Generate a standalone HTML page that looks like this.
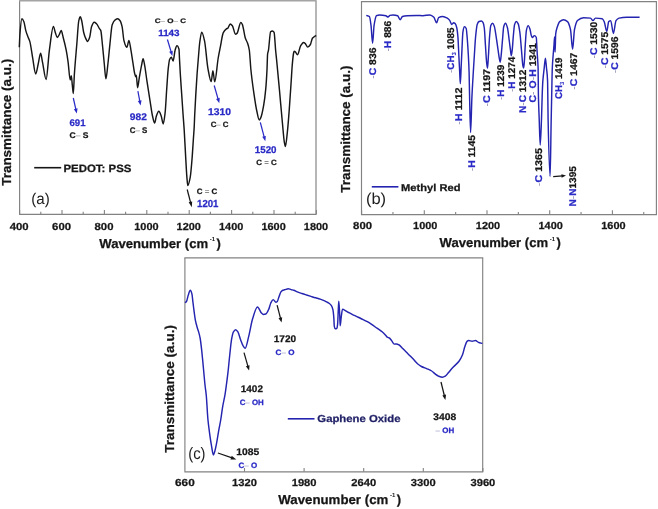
<!DOCTYPE html>
<html><head><meta charset="utf-8"><style>
html,body{margin:0;padding:0;background:#fff;overflow:hidden;}
svg{display:block;filter:blur(0.3px);font-family:"Liberation Sans",sans-serif;text-rendering:geometricPrecision;}
</style></head><body>
<svg width="658" height="509" viewBox="0 0 658 509">
<rect width="658" height="509" fill="#fff"/>
<path d="M19.6,0.75 L19.6,214.3 L316.0,214.3 L316.0,0.75" fill="none" stroke="#828282" stroke-width="1.15"/>
<line x1="19.05" y1="0.75" x2="316.55" y2="0.75" stroke="#a4a4a4" stroke-width="1.6"/>
<line x1="19.60" y1="214.3" x2="19.60" y2="210.0" stroke="#828282" stroke-width="1.1"/>
<line x1="62.00" y1="214.3" x2="62.00" y2="210.0" stroke="#828282" stroke-width="1.1"/>
<line x1="104.40" y1="214.3" x2="104.40" y2="210.0" stroke="#828282" stroke-width="1.1"/>
<line x1="146.80" y1="214.3" x2="146.80" y2="210.0" stroke="#828282" stroke-width="1.1"/>
<line x1="189.20" y1="214.3" x2="189.20" y2="210.0" stroke="#828282" stroke-width="1.1"/>
<line x1="231.60" y1="214.3" x2="231.60" y2="210.0" stroke="#828282" stroke-width="1.1"/>
<line x1="274.00" y1="214.3" x2="274.00" y2="210.0" stroke="#828282" stroke-width="1.1"/>
<line x1="316.40" y1="214.3" x2="316.40" y2="210.0" stroke="#828282" stroke-width="1.1"/>
<line x1="40.80" y1="214.3" x2="40.80" y2="211.70000000000002" stroke="#828282" stroke-width="1.1"/>
<line x1="83.20" y1="214.3" x2="83.20" y2="211.70000000000002" stroke="#828282" stroke-width="1.1"/>
<line x1="125.60" y1="214.3" x2="125.60" y2="211.70000000000002" stroke="#828282" stroke-width="1.1"/>
<line x1="168.00" y1="214.3" x2="168.00" y2="211.70000000000002" stroke="#828282" stroke-width="1.1"/>
<line x1="210.40" y1="214.3" x2="210.40" y2="211.70000000000002" stroke="#828282" stroke-width="1.1"/>
<line x1="252.80" y1="214.3" x2="252.80" y2="211.70000000000002" stroke="#828282" stroke-width="1.1"/>
<line x1="295.20" y1="214.3" x2="295.20" y2="211.70000000000002" stroke="#828282" stroke-width="1.1"/>
<path d="M19.30,47.30 C19.50,43.03 19.70,37.00 19.90,34.50 C20.57,26.16 21.23,18.80 21.90,18.80 C22.57,18.80 23.23,20.22 23.90,21.70 C24.53,23.11 25.17,28.30 25.80,30.60 C26.47,33.02 27.13,34.72 27.80,36.50 C28.47,38.28 29.13,39.16 29.80,41.40 C30.77,44.64 31.73,52.78 32.70,58.10 C33.70,63.60 34.70,73.90 35.70,73.90 C36.53,73.90 37.37,67.51 38.20,64.00 C39.00,60.63 39.80,53.20 40.60,53.20 C41.23,53.20 41.87,59.10 42.50,62.10 C43.70,67.79 44.90,79.40 46.10,79.40 C47.20,79.40 48.30,58.04 49.40,50.20 C50.73,40.70 52.07,26.60 53.40,26.60 C54.03,26.60 54.67,30.74 55.30,32.50 C55.97,34.35 56.63,37.50 57.30,37.50 C57.97,37.50 58.63,35.66 59.30,34.50 C59.93,33.40 60.57,30.60 61.20,30.60 C61.87,30.60 62.53,34.98 63.20,37.50 C64.20,41.28 65.20,45.07 66.20,50.20 C66.83,53.45 67.47,57.54 68.10,62.10 C68.80,67.14 69.50,80.00 70.20,80.00 C70.57,80.00 70.93,75.80 71.30,75.80 C71.63,75.80 71.97,82.05 72.30,85.00 C72.63,87.95 72.97,93.50 73.30,93.50 C73.67,93.50 74.03,79.37 74.40,73.90 C75.20,61.97 76.00,53.94 76.80,44.30 C77.47,36.26 78.13,23.46 78.80,20.70 C79.30,18.63 79.80,16.80 80.30,16.80 C80.77,16.80 81.23,18.97 81.70,20.70 C82.37,23.17 83.03,29.88 83.70,32.50 C84.37,35.12 85.03,37.03 85.70,38.40 C86.33,39.70 86.97,41.40 87.60,41.40 C88.27,41.40 88.93,39.41 89.60,37.50 C90.27,35.59 90.93,28.38 91.60,26.60 C92.43,24.38 93.27,22.30 94.10,22.30 C94.90,22.30 95.70,23.02 96.50,23.70 C97.47,24.53 98.43,27.12 99.40,28.60 C99.87,29.32 100.33,29.48 100.80,30.60 C101.33,31.89 101.87,39.31 102.40,44.30 C103.03,50.22 103.67,57.82 104.30,64.00 C104.83,69.21 105.37,78.80 105.90,78.80 C106.57,78.80 107.23,69.63 107.90,64.00 C108.57,58.37 109.23,50.40 109.90,44.30 C110.67,37.28 111.43,26.87 112.20,24.70 C113.20,21.87 114.20,20.43 115.20,19.80 C116.03,19.27 116.87,18.80 117.70,18.80 C118.50,18.80 119.30,19.68 120.10,20.70 C120.77,21.55 121.43,23.74 122.10,26.60 C122.70,29.18 123.30,37.82 123.90,40.40 C124.57,43.26 125.23,45.36 125.90,46.30 C126.23,46.77 126.57,47.30 126.90,47.30 C127.57,47.30 128.23,40.40 128.90,40.40 C129.53,40.40 130.17,45.90 130.80,49.30 C131.50,53.06 132.20,58.25 132.90,62.60 C133.50,66.33 134.10,71.21 134.70,73.60 C135.03,74.93 135.37,76.70 135.70,76.70 C135.90,76.70 136.10,75.20 136.30,75.20 C136.73,75.20 137.17,87.70 137.60,87.70 C138.13,87.70 138.67,81.33 139.20,78.30 C139.97,73.94 140.73,69.44 141.50,65.70 C142.03,63.10 142.57,58.60 143.10,58.60 C143.63,58.60 144.17,62.87 144.70,65.70 C145.47,69.77 146.23,76.32 147.00,81.40 C148.07,88.46 149.13,95.23 150.20,101.90 C150.97,106.70 151.73,112.67 152.50,116.00 C153.20,119.04 153.90,123.10 154.60,123.10 C155.20,123.10 155.80,117.60 156.40,116.00 C157.20,113.87 158.00,111.30 158.80,111.30 C159.60,111.30 160.40,113.88 161.20,116.00 C161.87,117.76 162.53,123.90 163.20,123.90 C163.83,123.90 164.47,118.23 165.10,112.90 C165.63,108.41 166.17,96.84 166.70,89.30 C167.20,82.23 167.70,73.38 168.20,68.90 C168.67,64.72 169.13,60.57 169.60,59.50 C170.17,58.20 170.73,57.20 171.30,57.20 C171.90,57.20 172.50,61.10 173.10,61.10 C173.77,61.10 174.43,52.51 175.10,50.20 C175.70,48.13 176.30,45.60 176.90,45.60 C177.60,45.60 178.30,46.57 179.00,49.30 C179.17,49.95 179.33,55.85 179.50,59.00 C179.77,64.04 180.03,69.29 180.30,73.70 C180.77,81.42 181.23,87.52 181.70,94.40 C182.17,101.28 182.63,108.40 183.10,115.00 C183.47,120.18 183.83,124.31 184.20,130.00 C184.73,138.27 185.27,150.20 185.80,159.40 C186.17,165.72 186.53,173.15 186.90,177.40 C187.20,180.88 187.50,185.60 187.80,185.60 C188.60,185.60 189.40,181.57 190.20,177.40 C190.80,174.27 191.40,166.60 192.00,159.40 C192.47,153.80 192.93,145.68 193.40,138.80 C193.67,134.87 193.93,131.96 194.20,127.00 C194.37,123.90 194.53,118.56 194.70,115.00 C195.07,107.17 195.43,100.73 195.80,94.40 C196.23,86.92 196.67,79.74 197.10,73.70 C197.47,68.59 197.83,64.35 198.20,60.00 C198.73,53.68 199.27,45.84 199.80,42.00 C200.43,37.44 201.07,32.10 201.70,32.10 C202.63,32.10 203.57,36.60 204.50,40.70 C205.63,45.68 206.77,62.24 207.90,68.30 C209.00,74.19 210.10,81.50 211.20,81.50 C211.77,81.50 212.33,70.70 212.90,70.70 C213.50,70.70 214.10,81.80 214.70,81.80 C215.87,81.80 217.03,64.79 218.20,58.00 C218.90,53.92 219.60,50.60 220.30,47.10 C221.30,42.10 222.30,34.66 223.30,32.70 C224.33,30.68 225.37,29.63 226.40,28.90 C226.90,28.54 227.40,28.50 227.90,28.10 C228.67,27.49 229.43,24.00 230.20,24.00 C230.93,24.00 231.67,24.91 232.40,25.80 C233.43,27.06 234.47,34.20 235.50,34.20 C236.00,34.20 236.50,33.81 237.00,33.40 C238.27,32.36 239.53,22.50 240.80,22.50 C241.30,22.50 241.80,23.41 242.30,24.30 C243.30,26.08 244.30,34.98 245.30,38.00 C246.07,40.31 246.83,41.04 247.60,43.30 C248.17,44.97 248.73,46.60 249.30,50.00 C249.83,53.20 250.37,64.46 250.90,69.70 C251.90,79.52 252.90,86.43 253.90,93.30 C254.87,99.94 255.83,106.57 256.80,111.00 C257.60,114.66 258.40,119.90 259.20,119.90 C259.70,119.90 260.20,118.86 260.70,117.90 C261.70,115.98 262.70,110.74 263.70,105.10 C264.37,101.34 265.03,96.45 265.70,89.40 C266.13,84.82 266.57,78.30 267.00,69.70 C267.20,65.73 267.40,55.51 267.60,54.00 C267.87,51.98 268.13,52.04 268.40,50.60 C269.13,46.64 269.87,32.47 270.60,31.80 C271.20,31.25 271.80,30.90 272.40,30.90 C272.97,30.90 273.53,31.45 274.10,32.40 C274.60,33.24 275.10,44.69 275.60,50.00 C275.93,53.54 276.27,56.43 276.60,59.80 C277.53,69.24 278.47,79.28 279.40,89.40 C280.40,100.24 281.40,112.39 282.40,122.80 C283.07,129.74 283.73,138.88 284.40,142.50 C284.73,144.31 285.07,146.50 285.40,146.50 C286.03,146.50 286.67,138.38 287.30,132.70 C287.97,126.72 288.63,117.85 289.30,109.10 C289.97,100.35 290.63,89.56 291.30,79.50 C291.60,74.97 291.90,69.18 292.20,65.70 C292.67,60.28 293.13,54.97 293.60,53.00 C293.80,52.15 294.00,51.20 294.20,51.20 C294.57,51.20 294.93,51.53 295.30,51.80 C296.03,52.35 296.77,54.80 297.50,54.80 C298.53,54.80 299.57,47.61 300.60,45.90 C301.60,44.24 302.60,42.40 303.60,42.40 C304.17,42.40 304.73,43.07 305.30,43.60 C306.10,44.35 306.90,47.10 307.70,47.10 C308.60,47.10 309.50,45.86 310.40,44.50 C311.07,43.49 311.73,39.18 312.40,38.30 C313.40,36.98 314.40,36.49 315.40,35.90 C315.67,35.74 315.93,35.63 316.20,35.50" fill="none" stroke="#161616" stroke-width="1.45" stroke-linejoin="round"/>
<text x="9.74" y="230.0" font-size="10.2" fill="#161616" font-weight="bold" textLength="18.92" lengthAdjust="spacingAndGlyphs" stroke="#161616" stroke-width="0.25">400</text>
<text x="52.14" y="230.0" font-size="10.2" fill="#161616" font-weight="bold" textLength="18.92" lengthAdjust="spacingAndGlyphs" stroke="#161616" stroke-width="0.25">600</text>
<text x="94.54" y="230.0" font-size="10.2" fill="#161616" font-weight="bold" textLength="18.92" lengthAdjust="spacingAndGlyphs" stroke="#161616" stroke-width="0.25">800</text>
<text x="134.24" y="230.0" font-size="10.2" fill="#161616" font-weight="bold" textLength="24.32" lengthAdjust="spacingAndGlyphs" stroke="#161616" stroke-width="0.25">1000</text>
<text x="176.64" y="230.0" font-size="10.2" fill="#161616" font-weight="bold" textLength="24.32" lengthAdjust="spacingAndGlyphs" stroke="#161616" stroke-width="0.25">1200</text>
<text x="219.04" y="230.0" font-size="10.2" fill="#161616" font-weight="bold" textLength="24.32" lengthAdjust="spacingAndGlyphs" stroke="#161616" stroke-width="0.25">1400</text>
<text x="261.44" y="230.0" font-size="10.2" fill="#161616" font-weight="bold" textLength="24.32" lengthAdjust="spacingAndGlyphs" stroke="#161616" stroke-width="0.25">1600</text>
<text x="303.84" y="230.0" font-size="10.2" fill="#161616" font-weight="bold" textLength="24.32" lengthAdjust="spacingAndGlyphs" stroke="#161616" stroke-width="0.25">1800</text>
<text x="99.3" y="248.3" font-size="13" font-weight="bold" fill="#161616" stroke="#161616" stroke-width="0.25" textLength="108.80" lengthAdjust="spacingAndGlyphs">Wavenumber (cm</text>
<text x="209.7" y="241.4" font-size="6" font-weight="bold" fill="#161616">-1</text>
<text x="216.5" y="248.3" font-size="13" font-weight="bold" fill="#161616" stroke="#161616" stroke-width="0.25">)</text>
<text transform="translate(11.1,185.8) rotate(-90)" font-size="13" font-weight="bold" fill="#161616" stroke="#161616" stroke-width="0.25" textLength="127.0" lengthAdjust="spacingAndGlyphs">Transmittance (a.u.)</text>
<line x1="34.2" y1="167.7" x2="61.2" y2="167.7" stroke="#161616" stroke-width="1.6"/>
<text x="63.42" y="171.6" font-size="10.6" fill="#161616" font-weight="bold" textLength="68.05" lengthAdjust="spacingAndGlyphs" stroke="#161616" stroke-width="0.25">PEDOT: PSS</text>
<text x="31.299999999999997" y="204.3" font-size="15.6" fill="#1e1e1e" textLength="18.50" lengthAdjust="spacingAndGlyphs">(a)</text>
<line x1="73.3" y1="98.0" x2="75.92" y2="109.70" stroke="#2a2ac6" stroke-width="1.25"/>
<polygon points="76.80,113.60 73.85,109.14 77.56,108.31" fill="#2a2ac6"/>
<text x="69.47" y="126.0" font-size="9.6" fill="#2a2ac6" font-weight="bold" textLength="16.06" lengthAdjust="spacingAndGlyphs" stroke="#2a2ac6" stroke-width="0.25">691</text>
<text x="69.53" y="138.1" font-size="8.2" fill="#161616" font-weight="bold" textLength="18.94" lengthAdjust="spacingAndGlyphs" stroke="#161616" stroke-width="0.25">C<tspan fill="#7a7a7a" stroke="none" font-weight="normal">–</tspan> S</text>
<line x1="137.9" y1="91.2" x2="139.86" y2="101.57" stroke="#2a2ac6" stroke-width="1.25"/>
<polygon points="140.60,105.50 137.81,100.94 141.54,100.23" fill="#2a2ac6"/>
<text x="129.77" y="119.5" font-size="9.6" fill="#2a2ac6" font-weight="bold" textLength="17.06" lengthAdjust="spacingAndGlyphs" stroke="#2a2ac6" stroke-width="0.25">982</text>
<text x="129.83" y="133.0" font-size="8.2" fill="#161616" font-weight="bold" textLength="17.54" lengthAdjust="spacingAndGlyphs" stroke="#161616" stroke-width="0.25">C<tspan fill="#7a7a7a" stroke="none" font-weight="normal">–</tspan> S</text>
<line x1="214.2" y1="85.5" x2="218.19" y2="99.36" stroke="#2a2ac6" stroke-width="1.25"/>
<polygon points="219.30,103.20 216.09,98.92 219.74,97.87" fill="#2a2ac6"/>
<text x="208.06" y="115.0" font-size="9.8" fill="#2a2ac6" font-weight="bold" textLength="22.98" lengthAdjust="spacingAndGlyphs" stroke="#2a2ac6" stroke-width="0.25">1310</text>
<text x="210.66" y="127.2" font-size="7.6" fill="#161616" font-weight="bold" textLength="17.88" lengthAdjust="spacingAndGlyphs" stroke="#161616" stroke-width="0.25">C<tspan fill="#7a7a7a" stroke="none" font-weight="normal">–</tspan> C</text>
<line x1="260.3" y1="122.3" x2="264.28" y2="137.33" stroke="#2a2ac6" stroke-width="1.25"/>
<polygon points="265.30,141.20 262.18,136.85 265.86,135.88" fill="#2a2ac6"/>
<text x="254.86" y="152.8" font-size="9.8" fill="#2a2ac6" font-weight="bold" textLength="21.68" lengthAdjust="spacingAndGlyphs" stroke="#2a2ac6" stroke-width="0.25">1520</text>
<text x="256.36" y="164.9" font-size="7.6" fill="#161616" font-weight="bold" textLength="20.38" lengthAdjust="spacingAndGlyphs" stroke="#161616" stroke-width="0.25">C <tspan fill="#8a8a8a" stroke="none">=</tspan> C</text>
<line x1="167.4" y1="39.5" x2="171.24" y2="52.17" stroke="#2a2ac6" stroke-width="1.25"/>
<polygon points="172.40,56.00 169.13,51.77 172.77,50.66" fill="#2a2ac6"/>
<text x="158.19" y="35.9" font-size="9.0" fill="#2a2ac6" font-weight="bold" textLength="21.41" lengthAdjust="spacingAndGlyphs" stroke="#2a2ac6" stroke-width="0.25">1143</text>
<text x="154.70" y="23.0" font-size="6.6" fill="#161616" font-weight="bold" textLength="31.29" lengthAdjust="spacingAndGlyphs" stroke="#161616" stroke-width="0.25">C<tspan fill="#7a7a7a" stroke="none" font-weight="normal">–</tspan> O<tspan fill="#7a7a7a" stroke="none" font-weight="normal">–</tspan> C</text>
<line x1="187.2" y1="189.5" x2="190.67" y2="202.84" stroke="#161616" stroke-width="1.25"/>
<polygon points="191.80,207.20 188.67,202.33 192.16,201.42" fill="#161616"/>
<text x="196.75" y="194.1" font-size="7.8" fill="#161616" font-weight="bold" textLength="20.50" lengthAdjust="spacingAndGlyphs" stroke="#161616" stroke-width="0.25">C <tspan fill="#8a8a8a" stroke="none">=</tspan> C</text>
<text x="197.04" y="207.0" font-size="10.2" fill="#2a2ac6" font-weight="bold" textLength="21.42" lengthAdjust="spacingAndGlyphs" stroke="#2a2ac6" stroke-width="0.25">1201</text>
<path d="M361.5,1.6 L361.5,214.6 L656.4,214.6 L656.4,1.6" fill="none" stroke="#828282" stroke-width="1.15"/>
<line x1="360.95" y1="1.6" x2="656.9499999999999" y2="1.6" stroke="#828282" stroke-width="1.15"/>
<line x1="361.60" y1="214.6" x2="361.60" y2="210.29999999999998" stroke="#828282" stroke-width="1.1"/>
<line x1="424.30" y1="214.6" x2="424.30" y2="210.29999999999998" stroke="#828282" stroke-width="1.1"/>
<line x1="487.00" y1="214.6" x2="487.00" y2="210.29999999999998" stroke="#828282" stroke-width="1.1"/>
<line x1="549.70" y1="214.6" x2="549.70" y2="210.29999999999998" stroke="#828282" stroke-width="1.1"/>
<line x1="612.40" y1="214.6" x2="612.40" y2="210.29999999999998" stroke="#828282" stroke-width="1.1"/>
<line x1="392.95" y1="214.6" x2="392.95" y2="212.0" stroke="#828282" stroke-width="1.1"/>
<line x1="455.65" y1="214.6" x2="455.65" y2="212.0" stroke="#828282" stroke-width="1.1"/>
<line x1="518.35" y1="214.6" x2="518.35" y2="212.0" stroke="#828282" stroke-width="1.1"/>
<line x1="581.05" y1="214.6" x2="581.05" y2="212.0" stroke="#828282" stroke-width="1.1"/>
<line x1="643.75" y1="214.6" x2="643.75" y2="212.0" stroke="#828282" stroke-width="1.1"/>
<path d="M366.30,15.40 C367.33,15.77 368.37,15.74 369.40,16.50 C369.93,16.89 370.47,21.29 371.00,25.20 C371.53,29.11 372.07,43.20 372.60,43.20 C373.10,43.20 373.60,28.30 374.10,25.20 C374.90,20.25 375.70,16.10 376.50,15.70 C377.53,15.18 378.57,14.90 379.60,14.90 C381.70,14.90 383.80,15.20 385.90,15.70 C386.60,15.87 387.30,17.00 388.00,17.00 C388.63,17.00 389.27,15.58 389.90,15.40 C390.93,15.10 391.97,14.90 393.00,14.90 C394.57,14.90 396.13,15.17 397.70,15.70 C398.50,15.97 399.30,19.70 400.10,19.70 C400.90,19.70 401.70,16.76 402.50,16.50 C404.07,15.98 405.63,15.79 407.20,15.70 C410.33,15.52 413.47,15.40 416.60,15.40 C418.70,15.40 420.80,15.70 422.90,15.70 C425.27,15.70 427.63,14.90 430.00,14.90 C431.30,14.90 432.60,16.03 433.90,17.30 C434.80,18.18 435.70,22.80 436.60,22.80 C437.27,22.80 437.93,17.96 438.60,17.60 C439.93,16.87 441.27,16.50 442.60,16.50 C444.17,16.50 445.73,17.27 447.30,18.10 C448.10,18.52 448.90,19.35 449.70,20.40 C450.37,21.27 451.03,24.40 451.70,24.40 C452.33,24.40 452.97,22.80 453.60,22.80 C454.13,22.80 454.67,23.15 455.20,23.60 C455.70,24.02 456.20,25.52 456.70,27.50 C457.10,29.09 457.50,32.26 457.90,36.80 C458.20,40.21 458.50,48.60 458.80,54.50 C459.10,60.40 459.40,66.38 459.70,72.20 C459.90,76.08 460.10,83.70 460.30,83.70 C460.60,83.70 460.90,72.50 461.20,66.30 C461.47,60.79 461.73,53.96 462.00,48.60 C462.30,42.57 462.60,33.98 462.90,32.10 C463.40,28.96 463.90,26.80 464.40,26.80 C465.00,26.80 465.60,27.37 466.20,28.50 C466.50,29.07 466.80,33.43 467.10,36.80 C467.50,41.29 467.90,47.32 468.30,54.50 C468.57,59.28 468.83,63.73 469.10,72.20 C469.27,77.49 469.43,90.46 469.60,97.50 C469.93,111.58 470.27,132.50 470.60,132.50 C471.03,132.50 471.47,106.89 471.90,97.50 C472.37,87.38 472.83,80.13 473.30,72.20 C473.67,65.97 474.03,60.15 474.40,54.50 C474.80,48.34 475.20,40.93 475.60,36.80 C476.13,31.30 476.67,25.84 477.20,24.40 C477.80,22.78 478.40,21.78 479.00,21.50 C479.77,21.15 480.53,20.90 481.30,20.90 C481.90,20.90 482.50,21.68 483.10,22.70 C483.50,23.38 483.90,25.25 484.30,28.00 C484.67,30.52 485.03,39.05 485.40,44.50 C485.80,50.45 486.20,58.63 486.60,62.20 C486.90,64.87 487.20,68.10 487.50,68.10 C487.80,68.10 488.10,60.68 488.40,56.30 C488.80,50.46 489.20,40.95 489.60,36.30 C490.00,31.65 490.40,26.58 490.80,25.60 C491.37,24.21 491.93,23.30 492.50,23.30 C493.10,23.30 493.70,24.70 494.30,26.20 C494.90,27.70 495.50,32.57 496.10,36.30 C496.67,39.82 497.23,44.28 497.80,48.10 C498.40,52.15 499.00,57.12 499.60,59.90 C499.80,60.83 500.00,62.20 500.20,62.20 C500.60,62.20 501.00,56.57 501.40,52.80 C501.80,49.03 502.20,43.10 502.60,38.60 C502.97,34.48 503.33,28.08 503.70,26.80 C504.30,24.71 504.90,23.30 505.50,23.30 C506.17,23.30 506.83,25.61 507.50,28.00 C508.10,30.15 508.70,36.48 509.30,41.00 C509.70,44.01 510.10,47.54 510.50,50.40 C510.77,52.30 511.03,55.70 511.30,55.70 C511.63,55.70 511.97,52.06 512.30,49.20 C512.67,46.05 513.03,38.97 513.40,35.10 C513.80,30.88 514.20,25.54 514.60,24.40 C515.20,22.68 515.80,21.50 516.40,21.50 C517.00,21.50 517.60,22.62 518.20,23.90 C518.77,25.11 519.33,28.69 519.90,32.70 C520.43,36.48 520.97,44.52 521.50,50.40 C521.97,55.55 522.43,63.57 522.90,65.80 C523.13,66.91 523.37,68.10 523.60,68.10 C523.83,68.10 524.07,64.81 524.30,62.20 C524.63,58.47 524.97,49.49 525.30,44.50 C525.67,39.01 526.03,31.98 526.40,30.30 C527.00,27.55 527.60,25.60 528.20,25.60 C528.80,25.60 529.40,27.44 530.00,29.20 C530.40,30.37 530.80,33.96 531.20,35.10 C531.60,36.24 532.00,37.50 532.40,37.50 C533.03,37.50 533.67,35.60 534.30,35.60 C534.97,35.60 535.63,36.09 536.30,37.50 C536.53,37.99 536.77,46.20 537.00,50.00 C537.20,53.25 537.40,55.72 537.60,59.00 C537.77,61.73 537.93,62.71 538.10,68.00 C538.20,71.18 538.30,90.13 538.40,95.00 C538.67,107.98 538.93,111.55 539.20,119.00 C539.53,128.31 539.87,145.00 540.20,145.00 C540.63,145.00 541.07,130.24 541.50,119.00 C541.73,112.95 541.97,101.28 542.20,95.00 C542.40,89.62 542.60,84.44 542.80,81.60 C543.27,74.96 543.73,72.22 544.20,68.10 C544.60,64.57 545.00,58.30 545.40,58.30 C545.77,58.30 546.13,64.31 546.50,68.10 C546.87,71.89 547.23,72.55 547.60,81.60 C547.67,83.25 547.73,90.17 547.80,95.00 C547.90,102.25 548.00,114.22 548.10,119.00 C548.77,150.87 549.43,176.40 550.10,176.40 C550.47,176.40 550.83,137.24 551.20,119.00 C551.37,110.71 551.53,102.75 551.70,95.00 C551.90,85.70 552.10,72.66 552.30,68.00 C552.60,61.02 552.90,58.47 553.20,54.50 C553.47,50.97 553.73,48.36 554.00,45.00 C554.20,42.48 554.40,37.00 554.60,37.00 C554.77,37.00 554.93,52.00 555.10,52.00 C555.30,52.00 555.50,35.76 555.70,34.00 C556.20,29.60 556.70,28.74 557.20,27.20 C558.03,24.63 558.87,22.30 559.70,21.60 C561.00,20.51 562.30,19.70 563.60,19.70 C564.90,19.70 566.20,20.50 567.50,21.60 C568.50,22.45 569.50,25.25 570.50,29.50 C571.20,32.48 571.90,49.20 572.60,49.20 C573.23,49.20 573.87,32.57 574.50,29.50 C575.50,24.65 576.50,21.37 577.50,20.50 C579.53,18.73 581.57,17.70 583.60,17.70 C585.90,17.70 588.20,17.81 590.50,18.10 C591.33,18.21 592.17,20.50 593.00,20.50 C593.80,20.50 594.60,18.10 595.40,18.10 C597.67,18.10 599.93,18.25 602.20,18.70 C602.87,18.83 603.53,20.23 604.20,21.60 C605.07,23.38 605.93,31.40 606.80,31.40 C607.43,31.40 608.07,22.18 608.70,21.60 C609.37,20.99 610.03,20.60 610.70,20.60 C611.60,20.60 612.50,33.40 613.40,33.40 C614.27,33.40 615.13,21.86 616.00,20.60 C617.00,19.15 618.00,18.31 619.00,18.10 C621.60,17.56 624.20,17.30 626.80,17.30 C631.07,17.30 635.33,17.30 639.60,17.30" fill="none" stroke="#2424b0" stroke-width="1.45" stroke-linejoin="round"/>
<text x="353.14" y="229.2" font-size="10.2" fill="#161616" font-weight="bold" textLength="18.92" lengthAdjust="spacingAndGlyphs" stroke="#161616" stroke-width="0.25">800</text>
<text x="413.14" y="229.2" font-size="10.2" fill="#161616" font-weight="bold" textLength="24.32" lengthAdjust="spacingAndGlyphs" stroke="#161616" stroke-width="0.25">1000</text>
<text x="475.84" y="229.2" font-size="10.2" fill="#161616" font-weight="bold" textLength="24.32" lengthAdjust="spacingAndGlyphs" stroke="#161616" stroke-width="0.25">1200</text>
<text x="538.54" y="229.2" font-size="10.2" fill="#161616" font-weight="bold" textLength="24.32" lengthAdjust="spacingAndGlyphs" stroke="#161616" stroke-width="0.25">1400</text>
<text x="601.24" y="229.2" font-size="10.2" fill="#161616" font-weight="bold" textLength="24.32" lengthAdjust="spacingAndGlyphs" stroke="#161616" stroke-width="0.25">1600</text>
<text x="439.59999999999997" y="247.4" font-size="13" font-weight="bold" fill="#161616" stroke="#161616" stroke-width="0.25" textLength="108.50" lengthAdjust="spacingAndGlyphs">Wavenumber (cm</text>
<text x="549.7" y="240.5" font-size="6" font-weight="bold" fill="#161616">-1</text>
<text x="556.5" y="247.4" font-size="13" font-weight="bold" fill="#161616" stroke="#161616" stroke-width="0.25">)</text>
<text transform="translate(350.1,192.7) rotate(-90)" font-size="13" font-weight="bold" fill="#161616" stroke="#161616" stroke-width="0.25" textLength="127.2" lengthAdjust="spacingAndGlyphs">Transmittance (a.u.)</text>
<line x1="371.8" y1="186.8" x2="398.4" y2="186.8" stroke="#2424b0" stroke-width="1.6"/>
<text x="401.05" y="190.9" font-size="10.0" fill="#161616" font-weight="bold" textLength="59.40" lengthAdjust="spacingAndGlyphs" stroke="#161616" stroke-width="0.25">Methyl Red</text>
<text x="365.9" y="203.5" font-size="16.0" fill="#1e1e1e" textLength="20.20" lengthAdjust="spacingAndGlyphs">(b)</text>
<text transform="translate(375.8,78.74) rotate(-90)" x="0" y="0" font-size="9.8" font-weight="bold" textLength="31.2" lengthAdjust="spacingAndGlyphs" stroke-width="0.25"><tspan fill="#8a8ab0" stroke="none" font-weight="normal">-</tspan><tspan fill="#2a2ac6" stroke="#2a2ac6">C</tspan><tspan fill="#161616" stroke="#161616"> 836</tspan></text>
<text transform="translate(391.4,51.54) rotate(-90)" x="0" y="0" font-size="9.8" font-weight="bold" textLength="30.8" lengthAdjust="spacingAndGlyphs" stroke-width="0.25"><tspan fill="#8a8ab0" stroke="none" font-weight="normal">-</tspan><tspan fill="#2a2ac6" stroke="#2a2ac6">H</tspan><tspan fill="#161616" stroke="#161616"> 886</tspan></text>
<text transform="translate(453.9,72.94) rotate(-90)" x="0" y="0" font-size="9.8" font-weight="bold" textLength="45.4" lengthAdjust="spacingAndGlyphs" stroke-width="0.25"><tspan fill="#8a8ab0" stroke="none" font-weight="normal">-</tspan><tspan fill="#2a2ac6" stroke="#2a2ac6">CH</tspan><tspan fill="#2a2ac6" font-size="6" dy="1.9">3</tspan><tspan dy="-1.9" fill="#161616" stroke="#161616"> 1085</tspan></text>
<text transform="translate(462.4,124.74) rotate(-90)" x="0" y="0" font-size="9.8" font-weight="bold" textLength="37.3" lengthAdjust="spacingAndGlyphs" stroke-width="0.25"><tspan fill="#8a8ab0" stroke="none" font-weight="normal">-</tspan><tspan fill="#2a2ac6" stroke="#2a2ac6">H</tspan><tspan fill="#161616" stroke="#161616"> 1112</tspan></text>
<text transform="translate(475.4,171.24) rotate(-90)" x="0" y="0" font-size="9.8" font-weight="bold" textLength="36.2" lengthAdjust="spacingAndGlyphs" stroke-width="0.25"><tspan fill="#8a8ab0" stroke="none" font-weight="normal">-</tspan><tspan fill="#2a2ac6" stroke="#2a2ac6">H</tspan><tspan fill="#161616" stroke="#161616"> 1145</tspan></text>
<text transform="translate(489.9,106.44) rotate(-90)" x="0" y="0" font-size="9.8" font-weight="bold" textLength="37.5" lengthAdjust="spacingAndGlyphs" stroke-width="0.25"><tspan fill="#8a8ab0" stroke="none" font-weight="normal">-</tspan><tspan fill="#2a2ac6" stroke="#2a2ac6">C</tspan><tspan fill="#161616" stroke="#161616"> 1197</tspan></text>
<text transform="translate(503.9,99.94) rotate(-90)" x="0" y="0" font-size="9.8" font-weight="bold" textLength="35.3" lengthAdjust="spacingAndGlyphs" stroke-width="0.25"><tspan fill="#8a8ab0" stroke="none" font-weight="normal">-</tspan><tspan fill="#2a2ac6" stroke="#2a2ac6">H</tspan><tspan fill="#161616" stroke="#161616"> 1239</tspan></text>
<text transform="translate(515.3,92.04) rotate(-90)" x="0" y="0" font-size="9.8" font-weight="bold" textLength="35.3" lengthAdjust="spacingAndGlyphs" stroke-width="0.25"><tspan fill="#8a8ab0" stroke="none" font-weight="normal">-</tspan><tspan fill="#2a2ac6" stroke="#2a2ac6">H</tspan><tspan fill="#161616" stroke="#161616"> 1274</tspan></text>
<text transform="translate(526.2,112.94) rotate(-90)" x="0" y="0" font-size="9.8" font-weight="bold" textLength="43.2" lengthAdjust="spacingAndGlyphs" stroke-width="0.25"><tspan fill="#2a2ac6" stroke="#2a2ac6">N</tspan><tspan fill="#8a8ab0" stroke="none" font-weight="normal">-</tspan><tspan fill="#2a2ac6" stroke="#2a2ac6">C</tspan><tspan fill="#161616" stroke="#161616"> 1312</tspan></text>
<text transform="translate(535.7,102.44) rotate(-90)" x="0" y="0" font-size="9.8" font-weight="bold" textLength="59.4" lengthAdjust="spacingAndGlyphs" stroke-width="0.25"><tspan fill="#2a2ac6" stroke="#2a2ac6">C</tspan><tspan fill="#8a8ab0" stroke="none" font-weight="normal">-</tspan><tspan fill="#2a2ac6" stroke="#2a2ac6"> O</tspan><tspan fill="#8a8ab0" stroke="none" font-weight="normal">-</tspan><tspan fill="#2a2ac6" stroke="#2a2ac6">H</tspan><tspan fill="#161616" stroke="#161616"> 1341</tspan></text>
<text transform="translate(541.9,186.14) rotate(-90)" x="0" y="0" font-size="9.8" font-weight="bold" textLength="38.1" lengthAdjust="spacingAndGlyphs" stroke-width="0.25"><tspan fill="#8a8ab0" stroke="none" font-weight="normal">-</tspan><tspan fill="#2a2ac6" stroke="#2a2ac6">C</tspan><tspan fill="#161616" stroke="#161616"> 1365</tspan></text>
<text transform="translate(576.2,206.44) rotate(-90)" x="0" y="0" font-size="9.8" font-weight="bold" textLength="40.4" lengthAdjust="spacingAndGlyphs" stroke-width="0.25"><tspan fill="#2a2ac6" stroke="#2a2ac6">N</tspan><tspan fill="#8a8ab0" stroke="none" font-weight="normal">-</tspan><tspan fill="#2a2ac6" stroke="#2a2ac6">N</tspan><tspan fill="#161616" stroke="#161616">1395</tspan></text>
<text transform="translate(561.9,98.94) rotate(-90)" x="0" y="0" font-size="9.8" font-weight="bold" textLength="41.4" lengthAdjust="spacingAndGlyphs" stroke-width="0.25"><tspan fill="#2a2ac6" stroke="#2a2ac6">CH</tspan><tspan fill="#2a2ac6" font-size="6" dy="1.9">3</tspan><tspan dy="-1.9" fill="#161616" stroke="#161616"> 1419</tspan></text>
<text transform="translate(577,89.84) rotate(-90)" x="0" y="0" font-size="9.8" font-weight="bold" textLength="37.2" lengthAdjust="spacingAndGlyphs" stroke-width="0.25"><tspan fill="#8a8ab0" stroke="none" font-weight="normal">-</tspan><tspan fill="#2a2ac6" stroke="#2a2ac6">C</tspan><tspan fill="#161616" stroke="#161616"> 1467</tspan></text>
<text transform="translate(596.8,58.54) rotate(-90)" x="0" y="0" font-size="9.8" font-weight="bold" textLength="36.9" lengthAdjust="spacingAndGlyphs" stroke-width="0.25"><tspan fill="#8a8ab0" stroke="none" font-weight="normal">-</tspan><tspan fill="#2a2ac6" stroke="#2a2ac6">C</tspan><tspan fill="#161616" stroke="#161616"> 1530</tspan></text>
<text transform="translate(608,68.54) rotate(-90)" x="0" y="0" font-size="9.8" font-weight="bold" textLength="36.9" lengthAdjust="spacingAndGlyphs" stroke-width="0.25"><tspan fill="#8a8ab0" stroke="none" font-weight="normal">-</tspan><tspan fill="#2a2ac6" stroke="#2a2ac6">C</tspan><tspan fill="#161616" stroke="#161616"> 1575</tspan></text>
<text transform="translate(618,73.24) rotate(-90)" x="0" y="0" font-size="9.8" font-weight="bold" textLength="36.9" lengthAdjust="spacingAndGlyphs" stroke-width="0.25"><tspan fill="#8a8ab0" stroke="none" font-weight="normal">-</tspan><tspan fill="#2a2ac6" stroke="#2a2ac6">C</tspan><tspan fill="#161616" stroke="#161616"> 1596</tspan></text>
<line x1="553.2" y1="176.7" x2="562.51" y2="175.90" stroke="#161616" stroke-width="1.25"/>
<polygon points="566.00,175.60 561.67,177.78 561.36,174.19" fill="#161616"/>
<path d="M184.9,257.9 L184.9,471.8 L482.7,471.8 L482.7,257.9" fill="none" stroke="#828282" stroke-width="1.15"/>
<line x1="184.35" y1="257.9" x2="483.25" y2="257.9" stroke="#828282" stroke-width="1.15"/>
<line x1="244.50" y1="471.8" x2="244.50" y2="468.0" stroke="#828282" stroke-width="1.1"/>
<line x1="304.10" y1="471.8" x2="304.10" y2="468.0" stroke="#828282" stroke-width="1.1"/>
<line x1="363.70" y1="471.8" x2="363.70" y2="468.0" stroke="#828282" stroke-width="1.1"/>
<line x1="423.30" y1="471.8" x2="423.30" y2="468.0" stroke="#828282" stroke-width="1.1"/>
<line x1="482.90" y1="471.8" x2="482.90" y2="468.0" stroke="#828282" stroke-width="1.1"/>
<path d="M185.10,302.70 C185.57,302.30 186.03,302.13 186.50,301.50 C187.10,300.69 187.70,296.71 188.30,295.00 C188.97,293.09 189.63,290.30 190.30,290.30 C190.83,290.30 191.37,291.96 191.90,293.90 C192.27,295.23 192.63,299.78 193.00,302.70 C193.40,305.88 193.80,309.27 194.20,312.20 C194.60,315.13 195.00,318.36 195.40,320.40 C196.00,323.46 196.60,325.44 197.20,327.50 C197.70,329.22 198.20,330.32 198.70,332.10 C199.20,333.88 199.70,335.73 200.20,338.50 C200.63,340.90 201.07,344.83 201.50,348.60 C201.90,352.08 202.30,356.29 202.70,360.40 C203.07,364.16 203.43,368.28 203.80,372.20 C204.20,376.48 204.60,381.28 205.00,385.00 C205.43,389.03 205.87,391.17 206.30,395.70 C206.83,401.28 207.37,413.64 207.90,419.30 C208.40,424.61 208.90,428.08 209.40,431.80 C210.07,436.76 210.73,441.32 211.40,445.10 C212.07,448.88 212.73,455.00 213.40,455.00 C213.80,455.00 214.20,453.25 214.60,452.00 C215.23,450.02 215.87,446.80 216.50,443.60 C217.17,440.23 217.83,435.55 218.50,431.80 C219.23,427.68 219.97,424.38 220.70,420.00 C221.40,415.82 222.10,409.98 222.80,405.90 C223.57,401.43 224.33,398.76 225.10,394.10 C225.57,391.26 226.03,387.51 226.50,384.00 C227.00,380.24 227.50,376.56 228.00,372.20 C228.60,366.97 229.20,359.97 229.80,354.50 C230.40,349.03 231.00,342.55 231.60,339.20 C232.17,336.04 232.73,333.05 233.30,332.10 C234.10,330.76 234.90,329.70 235.70,329.70 C236.47,329.70 237.23,330.92 238.00,332.10 C238.80,333.33 239.60,337.07 240.40,339.20 C241.37,341.78 242.33,344.82 243.30,346.20 C243.93,347.10 244.57,348.20 245.20,348.20 C246.37,348.20 247.53,340.89 248.70,336.40 C250.00,331.40 251.30,322.93 252.60,318.80 C254.23,313.61 255.87,307.00 257.50,307.00 C258.80,307.00 260.10,311.60 261.40,312.90 C262.03,313.53 262.67,314.40 263.30,314.40 C264.13,314.40 264.97,314.24 265.80,314.00 C266.80,313.72 267.80,311.29 268.80,309.10 C269.43,307.71 270.07,304.47 270.70,303.20 C271.53,301.53 272.37,299.60 273.20,299.60 C274.10,299.60 275.00,302.30 275.90,302.30 C276.37,302.30 276.83,301.87 277.30,301.40 C277.90,300.79 278.50,297.98 279.10,296.40 C279.70,294.82 280.30,292.69 280.90,291.90 C281.53,291.06 282.17,290.42 282.80,290.20 C283.40,289.99 284.00,289.95 284.60,289.80 C285.80,289.50 287.00,288.70 288.20,288.70 C289.13,288.70 290.07,289.36 291.00,289.60 C291.90,289.84 292.80,289.93 293.70,290.20 C294.90,290.56 296.10,291.42 297.30,291.90 C298.83,292.52 300.37,292.98 301.90,293.50 C303.43,294.02 304.97,294.51 306.50,295.00 C308.00,295.48 309.50,295.94 311.00,296.40 C312.53,296.87 314.07,297.35 315.60,297.80 C317.10,298.24 318.60,298.61 320.10,299.10 C321.63,299.60 323.17,300.10 324.70,300.80 C325.53,301.18 326.37,301.72 327.20,302.20 C327.77,302.53 328.33,302.79 328.90,303.20 C329.73,303.80 330.57,304.38 331.40,305.60 C331.90,306.33 332.40,307.47 332.90,309.60 C333.20,310.88 333.50,313.78 333.80,317.40 C333.97,319.41 334.13,325.50 334.30,326.30 C334.63,327.89 334.97,328.80 335.30,328.80 C335.80,328.80 336.30,328.64 336.80,328.30 C337.07,328.12 337.33,326.48 337.60,324.30 C337.83,322.39 338.07,313.93 338.30,309.60 C338.47,306.51 338.63,301.20 338.80,301.20 C339.10,301.20 339.40,309.03 339.70,314.50 C339.87,317.54 340.03,325.80 340.20,325.80 C340.53,325.80 340.87,319.83 341.20,317.40 C341.63,314.24 342.07,309.10 342.50,309.10 C342.90,309.10 343.30,309.41 343.70,309.60 C345.33,310.37 346.97,311.59 348.60,312.50 C350.07,313.31 351.53,314.13 353.00,314.80 C353.80,315.17 354.60,315.44 355.40,315.80 C357.20,316.61 359.00,317.61 360.80,318.50 C362.97,319.58 365.13,320.49 367.30,321.70 C368.73,322.50 370.17,323.45 371.60,324.40 C373.40,325.59 375.20,326.93 377.00,328.20 C378.80,329.47 380.60,330.49 382.40,332.00 C383.47,332.89 384.53,334.04 385.60,335.20 C386.17,335.82 386.73,336.87 387.30,337.20 C388.00,337.61 388.70,337.60 389.40,338.00 C390.13,338.42 390.87,339.69 391.60,340.60 C392.50,341.71 393.40,344.10 394.30,344.10 C395.03,344.10 395.77,343.90 396.50,343.90 C397.40,343.90 398.30,344.48 399.20,345.00 C400.10,345.52 401.00,346.80 401.90,347.70 C403.33,349.13 404.77,350.57 406.20,352.00 C407.63,353.43 409.07,354.84 410.50,356.30 C411.57,357.38 412.63,358.46 413.70,359.60 C414.97,360.95 416.23,362.72 417.50,363.80 C418.80,364.91 420.10,365.83 421.40,366.50 C423.30,367.48 425.20,367.97 427.10,368.80 C428.63,369.47 430.17,370.05 431.70,371.00 C432.83,371.70 433.97,373.04 435.10,373.90 C436.23,374.76 437.37,375.75 438.50,376.20 C439.83,376.73 441.17,377.30 442.50,377.30 C443.43,377.30 444.37,376.74 445.30,376.20 C446.47,375.53 447.63,373.54 448.80,372.20 C450.30,370.48 451.80,368.61 453.30,367.00 C455.20,364.96 457.10,363.82 459.00,361.30 C460.13,359.80 461.27,357.87 462.40,355.10 C463.17,353.23 463.93,349.32 464.70,347.10 C465.47,344.88 466.23,342.05 467.00,341.40 C467.57,340.92 468.13,340.50 468.70,340.50 C469.83,340.50 470.97,341.20 472.10,341.20 C473.23,341.20 474.37,340.50 475.50,340.50 C476.47,340.50 477.43,341.90 478.40,342.30 C479.73,342.85 481.07,343.10 482.40,343.50" fill="none" stroke="#2424b0" stroke-width="1.45" stroke-linejoin="round"/>
<text x="175.09" y="485.6" font-size="10.2" fill="#161616" font-weight="bold" textLength="19.62" lengthAdjust="spacingAndGlyphs" stroke="#161616" stroke-width="0.25">660</text>
<text x="232.09" y="485.6" font-size="10.2" fill="#161616" font-weight="bold" textLength="24.82" lengthAdjust="spacingAndGlyphs" stroke="#161616" stroke-width="0.25">1320</text>
<text x="291.69" y="485.6" font-size="10.2" fill="#161616" font-weight="bold" textLength="24.82" lengthAdjust="spacingAndGlyphs" stroke="#161616" stroke-width="0.25">1980</text>
<text x="351.29" y="485.6" font-size="10.2" fill="#161616" font-weight="bold" textLength="24.82" lengthAdjust="spacingAndGlyphs" stroke="#161616" stroke-width="0.25">2640</text>
<text x="410.89" y="485.6" font-size="10.2" fill="#161616" font-weight="bold" textLength="24.82" lengthAdjust="spacingAndGlyphs" stroke="#161616" stroke-width="0.25">3300</text>
<text x="470.49" y="485.6" font-size="10.2" fill="#161616" font-weight="bold" textLength="24.82" lengthAdjust="spacingAndGlyphs" stroke="#161616" stroke-width="0.25">3960</text>
<text x="278.3" y="504.3" font-size="13" font-weight="bold" fill="#161616" stroke="#161616" stroke-width="0.25" textLength="110.00" lengthAdjust="spacingAndGlyphs">Wavenumber (cm</text>
<text x="389.90000000000003" y="497.40000000000003" font-size="6" font-weight="bold" fill="#161616">-1</text>
<text x="396.7" y="504.3" font-size="13" font-weight="bold" fill="#161616" stroke="#161616" stroke-width="0.25">)</text>
<text transform="translate(174.1,452.8) rotate(-90)" font-size="13" font-weight="bold" fill="#161616" stroke="#161616" stroke-width="0.25" textLength="127.7" lengthAdjust="spacingAndGlyphs">Transmittance (a.u.)</text>
<line x1="287.8" y1="418.8" x2="314.5" y2="418.8" stroke="#2424b0" stroke-width="1.6"/>
<text x="317.34" y="422.1" font-size="10.2" fill="#1f1f66" font-weight="bold" textLength="83.12" lengthAdjust="spacingAndGlyphs" stroke="#1f1f66" stroke-width="0.25">Gaphene Oxide</text>
<text x="188.20000000000002" y="458.6" font-size="16.5" fill="#1e1e1e" textLength="17.30" lengthAdjust="spacingAndGlyphs">(c)</text>
<line x1="217.9" y1="453.0" x2="232.05" y2="457.92" stroke="#161616" stroke-width="1.25"/>
<polygon points="236.30,459.40 230.48,459.39 231.73,455.80" fill="#161616"/>
<text x="236.37" y="454.9" font-size="9.6" fill="#161616" font-weight="bold" textLength="22.96" lengthAdjust="spacingAndGlyphs" stroke="#161616" stroke-width="0.25">1085</text>
<text x="238.45" y="467.6" font-size="7.8" fill="#2a2ac6" font-weight="bold" textLength="18.70" lengthAdjust="spacingAndGlyphs" stroke="#2a2ac6" stroke-width="0.25">C<tspan fill="#8a8ac0" stroke="none" font-weight="normal">–</tspan> O</text>
<line x1="244.0" y1="352.7" x2="248.00" y2="366.65" stroke="#161616" stroke-width="1.25"/>
<polygon points="249.10,370.50 245.90,366.22 249.55,365.17" fill="#161616"/>
<text x="240.77" y="392.2" font-size="9.6" fill="#161616" font-weight="bold" textLength="22.16" lengthAdjust="spacingAndGlyphs" stroke="#161616" stroke-width="0.25">1402</text>
<text x="239.65" y="405.0" font-size="7.8" fill="#2a2ac6" font-weight="bold" textLength="24.10" lengthAdjust="spacingAndGlyphs" stroke="#2a2ac6" stroke-width="0.25">C<tspan fill="#8a8ac0" stroke="none" font-weight="normal">–</tspan> OH</text>
<line x1="277.1" y1="305.2" x2="280.59" y2="318.63" stroke="#161616" stroke-width="1.25"/>
<polygon points="281.60,322.50 278.50,318.14 282.18,317.18" fill="#161616"/>
<text x="273.77" y="342.3" font-size="9.6" fill="#161616" font-weight="bold" textLength="22.36" lengthAdjust="spacingAndGlyphs" stroke="#161616" stroke-width="0.25">1720</text>
<text x="275.55" y="355.3" font-size="7.8" fill="#2a2ac6" font-weight="bold" textLength="18.90" lengthAdjust="spacingAndGlyphs" stroke="#2a2ac6" stroke-width="0.25">C<tspan fill="#8a8ac0" stroke="none" font-weight="normal">–</tspan> O</text>
<line x1="441.0" y1="382.0" x2="444.45" y2="396.02" stroke="#161616" stroke-width="1.25"/>
<polygon points="445.40,399.90 442.36,395.50 446.05,394.59" fill="#161616"/>
<text x="433.27" y="420.4" font-size="9.6" fill="#161616" font-weight="bold" textLength="22.86" lengthAdjust="spacingAndGlyphs" stroke="#161616" stroke-width="0.25">3408</text>
<text x="435.55" y="433.1" font-size="7.8" fill="#2a2ac6" font-weight="bold" textLength="18.60" lengthAdjust="spacingAndGlyphs" stroke="#2a2ac6" stroke-width="0.25"><tspan fill="#8a8ac0" stroke="none" font-weight="normal">–</tspan> OH</text>
</svg>
</body></html>
